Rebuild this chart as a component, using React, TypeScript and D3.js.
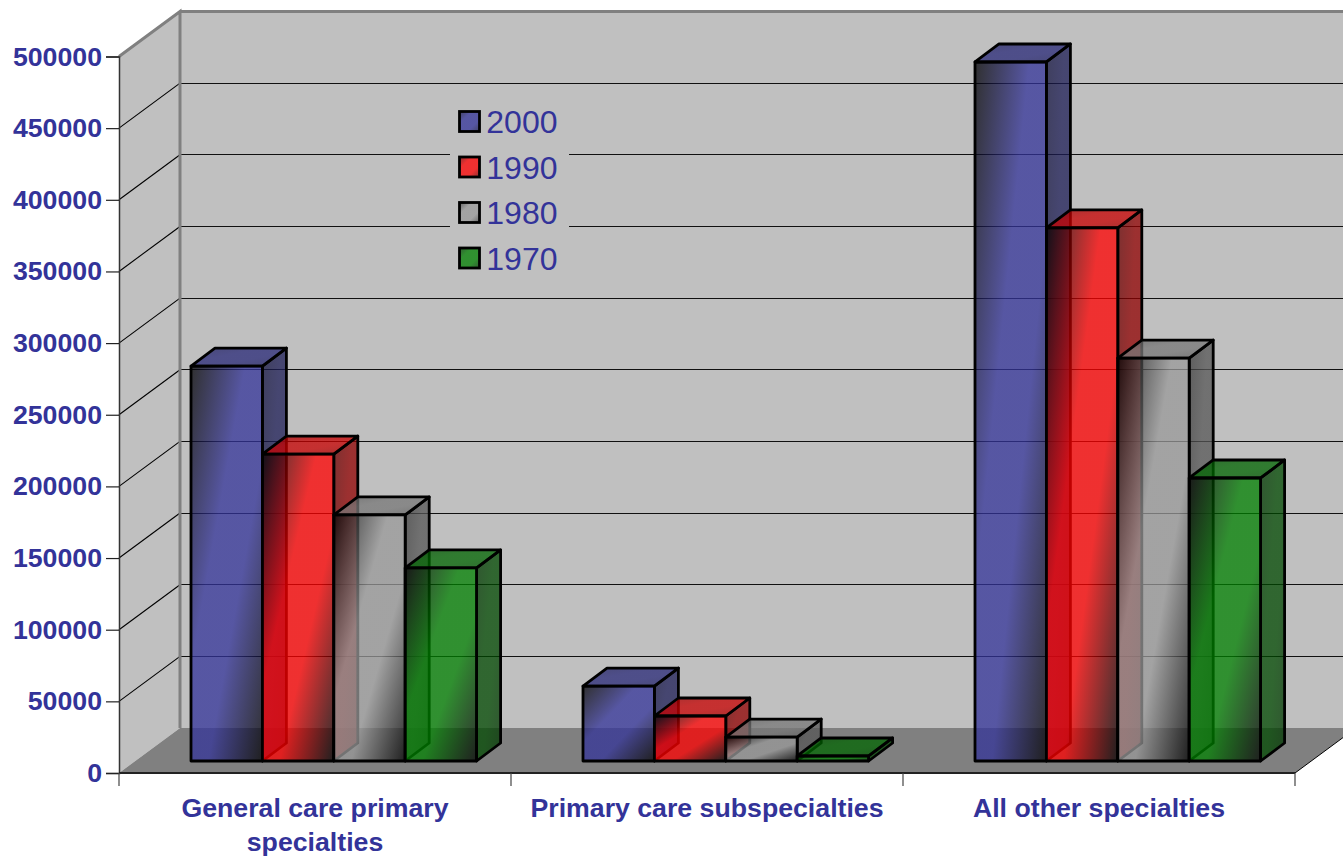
import { useEffect, useRef } from "react";
import * as d3 from "d3";

const categories = ["General care primary specialties", "Primary care subspecialties", "All other specialties"];
const years = ["2000", "1990", "1980", "1970"];
const values2000 = [275600, 52300, 487800];
const values1990 = [214200, 31400, 372000];
const values1980 = [171700, 16700, 281200];
const values1970 = [134700, 3500, 197500];
const seriesValues = [values2000, values1990, values1980, values1970];
const colors = ["#333399", "#ff0000", "#999999", "#008000"];
const yTicks = [0, 50000, 100000, 150000, 200000, 250000, 300000, 350000, 400000, 450000, 500000];

const width = 1343;
const height = 856;
const textColor = "#333399";
const font = "'Liberation Sans', Arial, sans-serif";

// walls are the floor pushed back by this much
const wall = { dx: 61, dy: -45 };
const barDepth = { dx: 24, dy: -18 };
const barLift = 12;
const barInset = 72;
const groupWidth = 285.6;
const barAlpha = 0.75;

const wrap: Record<string, string[]> = {
  "General care primary specialties": ["General care primary", "specialties"],
};

export default function App() {
  const svgRef = useRef<SVGSVGElement>(null);

  useEffect(() => {
    if (!svgRef.current) return;
    const svg = d3.select(svgRef.current);
    svg.selectAll("*").remove();

    const x = d3.scaleBand<string>().domain(categories).range([119, 1295]);
    const y = d3.scaleLinear().domain([0, 500000]).range([773, 56.5]);
    const inner = d3
      .scaleBand<string>()
      .domain(years)
      .range([barInset, barInset + groupWidth]);

    // gradients
    const defs = svg.append("defs");
    const grad = (id: string, dark: string, bright: string, from = 0.38, to = 0.62) => {
      const g = defs
        .append("linearGradient")
        .attr("id", id)
        .attr("x1", 0)
        .attr("y1", 0)
        .attr("x2", 1)
        .attr("y2", 1);
      g.append("stop").attr("offset", 0).attr("stop-color", dark);
      g.append("stop").attr("offset", from).attr("stop-color", bright);
      g.append("stop").attr("offset", to).attr("stop-color", bright);
      g.append("stop").attr("offset", 1).attr("stop-color", dark);
    };
    colors.forEach((c, i) => {
      const col = d3.color(c)!;
      grad(`front${i}`, "#000", c);
      grad(`side${i}`, col.darker(2.6).formatHex(), col.darker(1.6).formatHex());
      grad(`top${i}`, col.darker(1.4).formatHex(), col.darker(0.7).formatHex());
      grad(`key${i}`, d3.interpolateRgb(c, "#000")(0.55), c, 0.3, 0.7);
    });

    const poly = (pts: [number, number][]) => pts.map((p) => p.join(",")).join(" ");
    const x0 = 119;
    const x1 = 1295;
    const y0 = y(0);
    const yTop = y(500000);

    // walls and floor
    svg
      .append("polygon")
      .attr("points", poly([[x0, yTop], [x0 + wall.dx, yTop + wall.dy], [x0 + wall.dx, y0 + wall.dy], [x0, y0]]))
      .attr("fill", "#c0c0c0");
    svg
      .append("rect")
      .attr("x", x0 + wall.dx)
      .attr("y", yTop + wall.dy)
      .attr("width", width - x0 - wall.dx)
      .attr("height", y0 - yTop)
      .attr("fill", "#c0c0c0");
    svg
      .append("polygon")
      .attr("points", poly([[x0, y0], [x1, y0], [x1 + wall.dx, y0 + wall.dy], [x0 + wall.dx, y0 + wall.dy]]))
      .attr("fill", "#808080");

    // gridlines
    yTicks.slice(1).forEach((t) => {
      if (t < 500000) {
        svg
          .append("line")
          .attr("x1", x0)
          .attr("y1", y(t))
          .attr("x2", x0 + wall.dx)
          .attr("y2", y(t) + wall.dy)
          .attr("stroke", "#000")
          .attr("stroke-width", 1.1);
      }
      svg
        .append("line")
        .attr("x1", x0 + wall.dx)
        .attr("y1", Math.floor(y(t) + wall.dy) + 0.5)
        .attr("x2", width)
        .attr("y2", Math.floor(y(t) + wall.dy) + 0.5)
        .attr("stroke", t === 500000 ? "#808080" : "#111")
        .attr("stroke-width", t === 500000 ? 3 : 1);
    });

    // wall edges
    svg
      .append("path")
      .attr("d", `M${x0},${yTop}L${x0 + wall.dx},${yTop + wall.dy}V${y0 + wall.dy}`)
      .attr("fill", "none")
      .attr("stroke", "#808080")
      .attr("stroke-width", 3);
    svg
      .append("line")
      .attr("x1", x1)
      .attr("y1", y0)
      .attr("x2", x1 + wall.dx)
      .attr("y2", y0 + wall.dy)
      .attr("stroke", "#000")
      .attr("stroke-width", 1);

    // legend sits on a patch of wall colour, gridlines stop around it
    const legend = svg.append("g");
    legend
      .append("rect")
      .attr("x", 450)
      .attr("y", 100)
      .attr("width", 119)
      .attr("height", 180)
      .attr("fill", "#c0c0c0");

    // bars
    const stroke = (sel: d3.Selection<any, any, any, any>) =>
      sel.attr("stroke", "#000").attr("stroke-width", 2.8).attr("stroke-linejoin", "round");

    categories.forEach((cat, c) => {
      years.forEach((yr, s) => {
        const left = x(cat)! + inner(yr)!;
        const w = inner.bandwidth();
        const base = y0 - barLift;
        const top = base - (y0 - y(seriesValues[s][c]));
        const d = barDepth;
        const g = svg.append("g");
        g.append("polygon")
          .attr("points", poly([[left + w, top], [left + w + d.dx, top + d.dy], [left + w + d.dx, base + d.dy], [left + w, base]]))
          .attr("fill", `url(#side${s})`)
          .attr("fill-opacity", barAlpha)
          .call(stroke);
        g.append("polygon")
          .attr("points", poly([[left, top], [left + d.dx, top + d.dy], [left + w + d.dx, top + d.dy], [left + w, top]]))
          .attr("fill", `url(#top${s})`)
          .attr("fill-opacity", barAlpha)
          .call(stroke);
        g.append("rect")
          .attr("x", left)
          .attr("y", top)
          .attr("width", w)
          .attr("height", base - top)
          .attr("fill", `url(#front${s})`)
          .attr("fill-opacity", barAlpha)
          .call(stroke);
      });
    });

    // legend entries
    years.forEach((yr, i) => {
      const ly = 111.5 + i * 45.5;
      legend
        .append("rect")
        .attr("x", 459.5)
        .attr("y", ly)
        .attr("width", 20)
        .attr("height", 20)
        .attr("fill", `url(#key${i})`)
        .attr("fill-opacity", barAlpha)
        .attr("stroke", "#000")
        .attr("stroke-width", 2.8);
      legend
        .append("text")
        .attr("x", 557.5)
        .attr("y", ly + 21.5)
        .attr("text-anchor", "end")
        .attr("font-family", font)
        .attr("font-size", 32)
        .attr("fill", textColor)
        .text(yr);
    });

    // y axis
    const yAxis = svg
      .append("g")
      .attr("transform", `translate(${x0},0)`)
      .call(
        d3
          .axisLeft(y)
          .tickValues(yTicks)
          .tickSize(13)
          .tickPadding(4)
          .tickFormat((d) => String(d))
      );
    yAxis.select(".domain").attr("stroke", "#333").attr("stroke-width", 1.5);
    yAxis.selectAll(".tick line").attr("stroke", "#222").attr("stroke-width", 1.2);
    yAxis
      .selectAll("text")
      .attr("font-family", font)
      .attr("font-size", 26.7)
      .attr("font-weight", "bold")
      .attr("fill", textColor);

    // x axis
    const xAxis = svg.append("g").attr("transform", `translate(0,${y0})`);
    xAxis
      .append("line")
      .attr("x1", x0)
      .attr("x2", x1)
      .attr("stroke", "#222")
      .attr("stroke-width", 2);
    [x0, ...categories.map((c) => x(c)! + x.bandwidth())].forEach((tx) => {
      xAxis
        .append("line")
        .attr("x1", tx)
        .attr("x2", tx)
        .attr("y1", 0)
        .attr("y2", 13)
        .attr("stroke", "#444")
        .attr("stroke-width", 1.2);
    });
    categories.forEach((cat) => {
      const lines = wrap[cat] ?? [cat];
      lines.forEach((ln, i) => {
        xAxis
          .append("text")
          .attr("x", x(cat)! + x.bandwidth() / 2)
          .attr("y", 44 + i * 34)
          .attr("text-anchor", "middle")
          .attr("font-family", font)
          .attr("font-size", 26.7)
          .attr("font-weight", "bold")
          .attr("fill", textColor)
          .text(ln);
      });
    });
  }, []);

  return (
    <svg
      ref={svgRef}
      width={width}
      height={height}
      style={{ position: "absolute", left: 0, top: 0, display: "block" }}
    />
  );
}
